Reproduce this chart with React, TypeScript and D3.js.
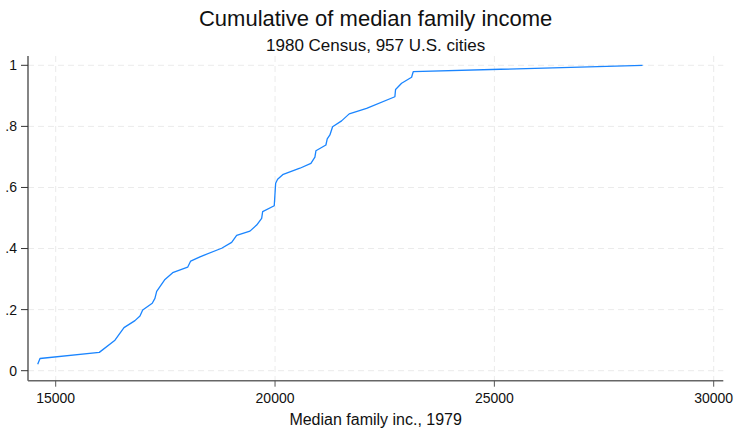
import React from "react";
import * as d3 from "d3";

const title = "Cumulative of median family income";
const subtitle = "1980 Census, 957 U.S. cities";
const xTitle = "Median family inc., 1979";

const xTicks = [15000, 20000, 25000, 30000];
const yTicks = [0, 0.2, 0.4, 0.6, 0.8, 1];
const yTickLabels = ["0", ".2", ".4", ".6", ".8", "1"];

const income = [
  14590, 14642, 15994, 16351, 16557, 16807, 16921, 16983, 17201, 17262, 17302,
  17491, 17667, 18008, 18077, 18289, 18783, 19011, 19125, 19428, 19581, 19695,
  19718, 19982, 20014, 20059, 20187, 20567, 20818, 20909, 20932, 21160, 21190,
  21251, 21312, 21517, 21691, 22087, 22732, 22748, 22885, 23113, 23150, 28378,
];
const cumulative = [
  0.021, 0.04, 0.06, 0.1, 0.141, 0.164, 0.179, 0.199, 0.221, 0.237, 0.26,
  0.299, 0.321, 0.339, 0.359, 0.373, 0.401, 0.42, 0.443, 0.457, 0.477, 0.499,
  0.521, 0.54, 0.614, 0.627, 0.643, 0.663, 0.679, 0.699, 0.72, 0.739, 0.759,
  0.772, 0.799, 0.818, 0.841, 0.859, 0.897, 0.921, 0.941, 0.961, 0.979, 1.0,
];

const W = 738;
const H = 428;
const left = 28;
const right = 723.3;
const top = 56;
const bottom = 380.7;

export default function App() {
  const x = d3.scaleLinear().domain([15000, 30000]).range([55.7, 713.7]);
  const y = d3.scaleLinear().domain([0, 1]).range([370.7, 65.3]);
  const pts = income.map((v, i) => [v, cumulative[i]] as [number, number]);
  const line = d3
    .line<[number, number]>()
    .x((d) => x(d[0]))
    .y((d) => y(d[1]));
  const font = "'Liberation Sans', Arial, sans-serif";
  const cx = (left + right) / 2;
  return (
    <svg
      width={W}
      height={H}
      style={{ position: "absolute", left: 0, top: 0, background: "#fff" }}
      fontFamily={font}
    >
      <rect width={W} height={H} fill="#fff" />
      {yTicks.map((t) => (
        <line
          key={"gy" + t}
          x1={left}
          x2={right}
          y1={y(t)}
          y2={y(t)}
          stroke="#ebebeb"
          strokeWidth={1}
          strokeDasharray="6,4"
        />
      ))}
      {xTicks.map((t) => (
        <line
          key={"gx" + t}
          x1={x(t)}
          x2={x(t)}
          y1={top}
          y2={bottom}
          stroke="#ebebeb"
          strokeWidth={1}
          strokeDasharray="6,4"
        />
      ))}
      <path d={line(pts) || ""} fill="none" stroke="#1a85ff" strokeWidth={1.3} strokeLinejoin="round" />
      <line x1={left} x2={left} y1={top} y2={bottom} stroke="#333" strokeWidth={1.2} />
      <line x1={left} x2={right} y1={bottom} y2={bottom} stroke="#666" strokeWidth={1.4} />
      {yTicks.map((t, i) => (
        <g key={"ty" + t}>
          <line x1={left - 7} x2={left} y1={y(t)} y2={y(t)} stroke="#333" strokeWidth={1} />
          <text x={left - 11} y={y(t)} dy="0.35em" textAnchor="end" fontSize={14} fill="#111">
            {yTickLabels[i]}
          </text>
        </g>
      ))}
      {xTicks.map((t) => (
        <g key={"tx" + t}>
          <line x1={x(t)} x2={x(t)} y1={bottom} y2={bottom + 6} stroke="#555" strokeWidth={1} />
          <text x={x(t)} y={402.5} textAnchor="middle" fontSize={14} fill="#111">
            {t}
          </text>
        </g>
      ))}
      <text x={cx} y={425} textAnchor="middle" fontSize={16} fill="#111">
        {xTitle}
      </text>
      <text x={cx} y={26} textAnchor="middle" fontSize={22} fill="#111">
        {title}
      </text>
      <text x={cx} y={50.7} textAnchor="middle" fontSize={17} fill="#111">
        {subtitle}
      </text>
    </svg>
  );
}
